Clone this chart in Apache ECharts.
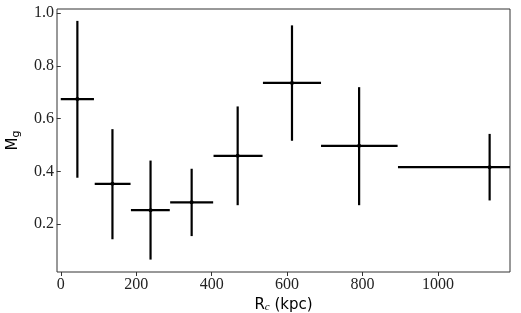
<!DOCTYPE html>
<html>
<head>
<meta charset="utf-8">
<script src="https://cdn.jsdelivr.net/npm/echarts@6/dist/echarts.min.js"></script>
<style>html,body{margin:0;padding:0;background:#fff;}#c{width:521px;height:313px;}</style>
</head>
<body>
<div id="c"></div>
<script>
// Data
const rc     = [44, 137, 238, 347, 469, 613, 791, 1137];
const mg     = [0.674, 0.353, 0.253, 0.283, 0.459, 0.735, 0.497, 0.416];
const rcLow  = [0, 90, 186, 290, 405, 536, 690, 894];
const rcHigh = [88, 185, 289, 404, 535, 690, 893, 1380];
const mgLow  = [0.376, 0.143, 0.066, 0.155, 0.272, 0.516, 0.272, 0.290];
const mgHigh = [0.970, 0.560, 0.441, 0.410, 0.646, 0.953, 0.719, 0.542];
const xTicks = [0, 200, 400, 600, 800, 1000];
const yTicks = [0.2, 0.4, 0.6, 0.8, 1.0];

const data = rc.map((x, i) => [x, mg[i], rcLow[i], rcHigh[i], mgLow[i], mgHigh[i]]);

const chart = echarts.init(document.getElementById('c'), null, {renderer: 'canvas'});
const serif = '"Liberation Serif", "DejaVu Serif", serif';
const sans = '"DejaVu Sans", sans-serif';
chart.setOption({
  animation: false,
  grid: {left: 57, right: 11, top: 9, bottom: 41, show: true, borderColor: '#333', borderWidth: 1,
         containLabel: false, outerBoundsMode: 'none'},
  xAxis: {
    type: 'value', min: -10, max: 1191,
    name: '{a|R}{s|c}{a| (kpc)}', nameLocation: 'middle', nameGap: 21,
    nameTextStyle: {rich: {
      a: {fontFamily: sans, fontSize: 15, color: '#000'},
      s: {fontFamily: serif, fontStyle: 'italic', fontSize: 11, color: '#000', verticalAlign: 'bottom', padding: [4, 0, 0, 0]}
    }},
    axisLine: {show: false},
    splitLine: {show: false},
    axisTick: {show: true, inside: false, length: 4, lineStyle: {color: '#333'}, customValues: xTicks},
    axisLabel: {customValues: xTicks, fontFamily: serif, fontSize: 16, color: '#222', margin: 5,
      formatter: v => String(Math.round(v))}
  },
  yAxis: {
    type: 'value', min: 0.019, max: 1.015,
    name: '{a|M}{s|g}', nameLocation: 'middle', nameGap: 35, nameRotate: 90,
    nameTextStyle: {rich: {
      a: {fontFamily: sans, fontSize: 15, color: '#000'},
      s: {fontFamily: sans, fontSize: 11, color: '#000', verticalAlign: 'bottom', padding: [7, 0, 0, 0]}
    }},
    axisLine: {show: false},
    splitLine: {show: false},
    axisTick: {show: true, inside: false, length: 4, lineStyle: {color: '#333'}, customValues: yTicks},
    axisLabel: {customValues: yTicks, fontFamily: serif, fontSize: 16, color: '#222', margin: 3,
      formatter: v => Number(v).toFixed(1)}
  },
  series: [{
    type: 'custom',
    clip: true,
    encode: {x: 0, y: 1},
    data: data,
    renderItem: function (params, api) {
      const x = api.value(0), y = api.value(1);
      const c = api.coord([x, y]);
      const pxl = api.coord([api.value(2), y]);
      const pxh = api.coord([api.value(3), y]);
      const pyl = api.coord([x, api.value(4)]);
      const pyh = api.coord([x, api.value(5)]);
      const st = {stroke: '#000', lineWidth: 2.2};
      return {type: 'group', children: [
        {type: 'line', shape: {x1: pxl[0], y1: c[1], x2: pxh[0], y2: c[1]}, style: st},
        {type: 'line', shape: {x1: c[0], y1: pyl[1], x2: c[0], y2: pyh[1]}, style: st},
        {type: 'circle', shape: {cx: c[0], cy: c[1], r: 2}, style: {fill: '#000'}}
      ]};
    }
  }]
});
</script>
</body>
</html>
